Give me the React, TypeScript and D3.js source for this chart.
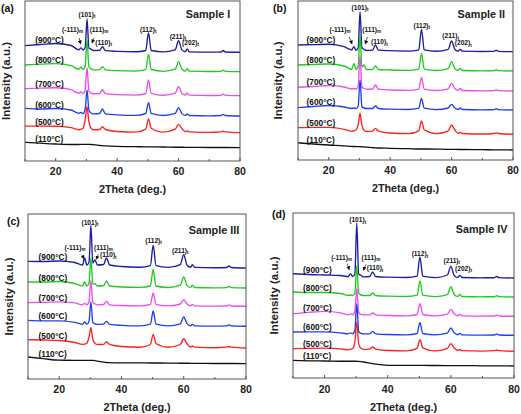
import React from 'react';
import * as d3 from 'd3';

// 2θ sampling positions (deg.) used for every pattern
const TWO_THETA = [10, 15, 20, 25, 27.5, 28.2, 28.9, 29.6, 30.2, 30.8, 31.5, 32.3, 34.3, 35.2, 36.2, 40, 46, 49.3, 50.2, 51.1, 55, 58.9, 60.0, 61.1, 62.2, 62.8, 63.5, 70, 73.8, 74.5, 75.3, 80];
const TEMPERATURES = ['(900°C)', '(800°C)', '(700°C)', '(600°C)', '(500°C)', '(110°C)'];
const SERIES_COLORS = ['#1c1ca6', '#1ecb1e', '#ee4cee', '#2040f0', '#ff2020', '#111111'];
const X_TICKS = [20, 40, 60, 80];
const X_MINOR_TICKS = [10, 30, 50, 70];

// Sample I — intensity (a.u.) of each pattern above its stacking offset
const SAMPLE_I_OFFSETS = [108.7, 89.3, 65.3, 45, 28.3, 13.3];
const SAMPLE_I_900 = [6.6, 7.8, 8.8, 6.8, 2.5, 4.5, 2.3, 5, 33.3, 4.3, 3.2, 1.8, 1.9, 5.6, 1.6, 1, 0.6, 1.8, 19.3, 1.8, 0.4, 2.5, 11.6, 2.4, 0.6, 3.3, 0.5, 0.2, 0.3, 1.8, 0.3, 0];
const SAMPLE_I_800 = [6.7, 7.5, 8, 6, 2.5, 4.5, 2.3, 6, 31.7, 5, 3, 1.8, 2, 5, 1.8, 1, 0.6, 2, 17.4, 2.2, 0.4, 2.5, 10, 2.4, 0.6, 3, 0.5, 0.2, 0.3, 1.6, 0.3, 0];
const SAMPLE_I_700 = [7, 7.5, 8, 6, 2.5, 4, 2.2, 6, 28, 5, 2.5, 2, 2.2, 6, 2, 1, 0.6, 2.2, 15.7, 2.4, 0.5, 2.6, 9, 2.4, 0.6, 2.5, 0.5, 0.2, 0.3, 1.5, 0.3, 0];
const SAMPLE_I_600 = [7.7, 7, 7.5, 6, 2.8, 3.5, 2.5, 7, 26, 6, 3, 2.2, 2.5, 7, 2.2, 1.2, 0.6, 2.5, 13.3, 2.6, 0.5, 2.6, 8.3, 2.4, 0.6, 2, 0.5, 0.2, 0.5, 1.5, 0.5, 0];
const SAMPLE_I_500 = [6.6, 6.5, 6.5, 5, 3, 3.5, 4.5, 13, 26, 11, 4.5, 3, 3.2, 6, 3.2, 1.2, 0.6, 3.5, 13.7, 4.5, 0.6, 3.5, 8.4, 4, 1, 1.8, 0.8, 0.3, 0.8, 1.5, 0.8, 0];
const SAMPLE_I_110 = [5.4, 4.5, 3.7, 3.2, 3.2, 3.3, 3.3, 3.4, 3.4, 3.3, 3.2, 3, 2.3, 2, 1.8, 1.3, 1, 0.8, 0.8, 0.8, 0.7, 0.5, 0.5, 0.5, 0.4, 0.4, 0.4, 0.2, 0.2, 0.2, 0.2, 0];

// Sample II
const SAMPLE_II_OFFSETS = [108.3, 89, 69, 50, 25.7, 10];
const SAMPLE_II_900 = [6.7, 7, 7.5, 5, 2, 5, 1.5, 4, 40, 4, 2.4, 1.2, 1.5, 6.7, 1.5, 1, 0.6, 1.8, 22.4, 1.8, 0.5, 2.4, 10.7, 2.3, 0.6, 2.4, 0.5, 0.2, 0.3, 1.5, 0.3, 0];
const SAMPLE_II_800 = [6, 6.5, 7, 5, 1.5, 7.7, 1.5, 5, 36, 4, 6, 1.5, 1.5, 5, 1.5, 1, 0.6, 1.8, 17.7, 1.8, 0.5, 2.4, 9.3, 2.3, 0.6, 2.7, 0.5, 0.2, 0.3, 1.3, 0.3, 0];
const SAMPLE_II_700 = [3.7, 4.5, 5.5, 4, 2, 2.5, 2, 5, 35, 4, 2.5, 1.8, 2, 6, 1.8, 1, 0.6, 1.8, 13.7, 1.8, 0.5, 2.2, 7.7, 2.2, 0.6, 2.5, 0.5, 0.2, 0.3, 1.3, 0.3, 0];
const SAMPLE_II_600 = [2.3, 3.5, 4.5, 3, 1.5, 2, 1.5, 4, 30, 3.5, 2, 1.5, 1.5, 4, 1.5, 0.8, 0.5, 1.8, 11.7, 1.8, 0.4, 2, 5.7, 2, 0.5, 2, 0.5, 0.2, 0.3, 1.3, 0.3, 0];
const SAMPLE_II_500 = [6.6, 7, 7, 5, 3, 3.5, 4.5, 10, 21, 9, 4, 2.8, 3.2, 6, 3.2, 1.3, 0.7, 3.5, 13.3, 4.5, 0.7, 3.5, 9.3, 4, 1, 1.8, 0.8, 0.3, 0.8, 1.5, 0.8, 0];
const SAMPLE_II_110 = [7.3, 6, 5, 4.2, 3.6, 3.5, 3.4, 3.4, 3.3, 3.2, 3, 2.8, 2.3, 2.1, 2, 1.7, 1.3, 1, 1, 1, 0.9, 0.7, 0.7, 0.6, 0.5, 0.5, 0.5, 0.3, 0.2, 0.2, 0.2, 0];

// Sample III
const SAMPLE_III_OFFSETS = [111, 91, 72.7, 52.7, 31, 15.3];
const SAMPLE_III_900 = [6.7, 6.5, 7, 5.5, 3, 10, 3, 6, 42.7, 5, 8, 3, 3.5, 10, 3, 1.5, 0.8, 2.4, 22.7, 2.4, 0.6, 3.4, 13.3, 2.8, 0.8, 3.3, 0.6, 0.3, 0.5, 2, 0.5, 0];
const SAMPLE_III_800 = [6, 6, 6.5, 4.5, 2, 6, 2, 5, 30, 4, 4.3, 2, 2.5, 7, 2, 1, 0.6, 2, 18.7, 2, 0.5, 2.8, 11, 2.4, 0.6, 2.7, 0.5, 0.2, 0.4, 1.5, 0.4, 0];
const SAMPLE_III_700 = [3.6, 4, 4.5, 3.5, 1.5, 3, 1.5, 5, 26, 4, 2.5, 1.5, 2, 5, 1.5, 0.8, 0.5, 2, 13.3, 2, 0.4, 2.3, 6.6, 2.2, 0.5, 2, 0.4, 0.2, 0.3, 1.5, 0.3, 0];
const SAMPLE_III_600 = [6, 5.5, 5.5, 4, 2, 4.3, 2, 5, 24.3, 4, 2.5, 2, 2.2, 5, 2, 1, 0.5, 2.2, 15.3, 2.2, 0.5, 2.4, 9.3, 2.4, 0.6, 2, 0.5, 0.2, 0.4, 1.5, 0.4, 0];
const SAMPLE_III_500 = [8.3, 8, 7.5, 5.5, 3.7, 3.8, 4.8, 11, 20.3, 9, 4.5, 3.5, 3.7, 6, 3.7, 1.5, 0.8, 3.5, 13.7, 4.5, 0.8, 3.5, 9.3, 4, 1, 2, 0.8, 0.3, 0.8, 1.5, 0.8, 0];
const SAMPLE_III_110 = [6.7, 5, 3.5, 3.4, 3.4, 3.4, 3.4, 3.4, 3.4, 3.3, 3.1, 2.5, 1.5, 1.2, 1, 0.8, 0.8, 0.7, 0.7, 0.7, 0.6, 0.5, 0.5, 0.5, 0.4, 0.4, 0.4, 0.2, 0.2, 0.2, 0.2, 0];

// Sample IV
const SAMPLE_IV_OFFSETS = [100, 81, 61.7, 42.7, 26.7, 12];
const SAMPLE_IV_900 = [4.3, 3.5, 3, 2.5, 1.5, 4.3, 1.5, 4, 55, 4, 2.7, 1.2, 1.5, 6, 1.5, 0.8, 0.5, 1.8, 21, 1.8, 0.4, 3, 11.7, 2.3, 0.6, 2.7, 0.5, 0.2, 0.3, 1.5, 0.3, 0];
const SAMPLE_IV_800 = [5, 4.5, 4.5, 3.5, 1.5, 2, 1.5, 4, 31.7, 4, 2, 1.5, 1.5, 4, 1.5, 0.8, 0.5, 1.8, 16, 1.8, 0.4, 2.4, 10, 2.3, 0.6, 2.7, 0.5, 0.2, 0.3, 1.3, 0.3, 0];
const SAMPLE_IV_700 = [2.6, 4, 5, 3.5, 1.5, 2.5, 1.5, 5, 27.6, 4, 2, 1.5, 1.5, 3.3, 1.5, 0.8, 0.5, 1.8, 12.6, 1.8, 0.4, 2.2, 7, 2.2, 0.6, 2, 0.5, 0.2, 0.3, 1.3, 0.3, 0];
const SAMPLE_IV_600 = [3.3, 3.5, 3.5, 2.5, 1.5, 2.5, 1.5, 5, 31.6, 4, 2, 1.5, 1.5, 4, 1.5, 0.8, 0.5, 1.8, 13, 1.8, 0.4, 2.2, 7.3, 2.2, 0.6, 2, 0.5, 0.2, 0.3, 1.3, 0.3, 0];
const SAMPLE_IV_500 = [2.6, 3, 3.2, 2.5, 1.5, 2, 2.8, 9.5, 29.3, 7.5, 3, 2, 2.2, 4.3, 2.2, 0.8, 0.5, 3, 11.6, 3.5, 0.4, 3, 7.6, 3.3, 0.8, 1.8, 0.6, 0.2, 0.6, 1.3, 0.6, 0];
const SAMPLE_IV_110 = [5.7, 5.2, 5, 4.8, 4.8, 4.8, 4.8, 4.8, 4.7, 4.6, 4.4, 4, 2.8, 2.3, 1.8, 0.7, 0.6, 0.6, 0.6, 0.6, 0.5, 0.4, 0.4, 0.4, 0.4, 0.4, 0.4, 0.2, 0.2, 0.2, 0.2, 0];

type Note = { main: string; sub: string; x: number; y: number };
type Arrow = { x1: number; y1: number; x2: number; y2: number };
type Panel = {
  letter: string; title: string;
  left: number; right: number; top: number; bottom: number;
  series: number[][]; offsets: number[]; labelX: number;
  letterX: number; letterY: number; yTitleX: number; xTitleY: number; tickY: number;
  notes: Note[]; arrows: Arrow[]; sampleX: number; sampleY: number;
};

const PANELS: Panel[] = [
  {
    letter: '(a)', title: 'Sample I', left: 25, right: 240, top: 1, bottom: 161,
    series: [SAMPLE_I_900, SAMPLE_I_800, SAMPLE_I_700, SAMPLE_I_600, SAMPLE_I_500, SAMPLE_I_110],
    offsets: SAMPLE_I_OFFSETS, labelX: 13.3,
    letterX: 1, letterY: 7.5, yTitleX: 6, xTitleY: 189, tickY: 171,
    notes: [
      { main: '(101)', sub: 't', x: 30.2, y: 147 },
      { main: '(-111)', sub: 'm', x: 25.5, y: 132 },
      { main: '(111)', sub: 'm', x: 34.1, y: 132 },
      { main: '(110)', sub: 't', x: 35.6, y: 119 },
      { main: '(112)', sub: 't', x: 50.1, y: 132 },
      { main: '(211)', sub: 't', x: 59.8, y: 125 },
      { main: '(202)', sub: 't', x: 63.9, y: 118.7 },
    ],
    arrows: [
      { x1: 27.6, y1: 123, x2: 28.1, y2: 117 },
      { x1: 32.5, y1: 123.3, x2: 31.8, y2: 118 },
    ],
    sampleX: 76.8, sampleY: 147,
  },
  {
    letter: '(b)', title: 'Sample II', left: 298, right: 513, top: 1, bottom: 160,
    series: [SAMPLE_II_900, SAMPLE_II_800, SAMPLE_II_700, SAMPLE_II_600, SAMPLE_II_500, SAMPLE_II_110],
    offsets: SAMPLE_II_OFFSETS, labelX: 12.8,
    letterX: 273, letterY: 7.5, yTitleX: 278, xTitleY: 188, tickY: 170,
    notes: [
      { main: '(101)', sub: 't', x: 30.2, y: 152.7 },
      { main: '(-111)', sub: 'm', x: 23.7, y: 130.7 },
      { main: '(111)', sub: 'm', x: 34, y: 130.7 },
      { main: '(110)', sub: 't', x: 36.5, y: 118.3 },
      { main: '(112)', sub: 't', x: 50.3, y: 135 },
      { main: '(211)', sub: 't', x: 59.7, y: 124.3 },
      { main: '(202)', sub: 't', x: 63.8, y: 117.3 },
    ],
    arrows: [
      { x1: 26.7, y1: 123.3, x2: 27.6, y2: 116 },
      { x1: 32.6, y1: 123, x2: 31.9, y2: 116 },
    ],
    sampleX: 77.4, sampleY: 146,
  },
  {
    letter: '(c)', title: 'Sample III', left: 28, right: 246, top: 214, bottom: 379,
    series: [SAMPLE_III_900, SAMPLE_III_800, SAMPLE_III_700, SAMPLE_III_600, SAMPLE_III_500, SAMPLE_III_110],
    offsets: SAMPLE_III_OFFSETS, labelX: 13.4,
    letterX: 7, letterY: 221, yTitleX: 8.5, xTitleY: 407, tickY: 389,
    notes: [
      { main: '(101)', sub: 't', x: 29.9, y: 157 },
      { main: '(-111)', sub: 'm', x: 25.1, y: 132 },
      { main: '(111)', sub: 'm', x: 34.2, y: 132 },
      { main: '(110)', sub: 't', x: 35.8, y: 124.3 },
      { main: '(112)', sub: 't', x: 50.3, y: 138.7 },
      { main: '(211)', sub: 't', x: 58.9, y: 128.7 },
    ],
    arrows: [
      { x1: 27.3, y1: 124.3, x2: 28, y2: 120.3 },
      { x1: 32.6, y1: 124.7, x2: 31.9, y2: 119.7 },
    ],
    sampleX: 77.8, sampleY: 149.3,
  },
  {
    letter: '(d)', title: 'Sample IV', left: 293, right: 514, top: 213, bottom: 378,
    series: [SAMPLE_IV_900, SAMPLE_IV_800, SAMPLE_IV_700, SAMPLE_IV_600, SAMPLE_IV_500, SAMPLE_IV_110],
    offsets: SAMPLE_IV_OFFSETS, labelX: 13.2,
    letterX: 272, letterY: 214, yTitleX: 273.5, xTitleY: 407, tickY: 389,
    notes: [
      { main: '(101)', sub: 't', x: 30.5, y: 158.3 },
      { main: '(-111)', sub: 'm', x: 25.4, y: 121 },
      { main: '(111)', sub: 'm', x: 34.7, y: 121 },
      { main: '(110)', sub: 't', x: 36, y: 110.3 },
      { main: '(112)', sub: 't', x: 50.2, y: 124.3 },
      { main: '(211)', sub: 't', x: 60.3, y: 117.7 },
      { main: '(202)', sub: 't', x: 64, y: 110 },
    ],
    arrows: [
      { x1: 27.2, y1: 114.3, x2: 27.8, y2: 108.3 },
      { x1: 33.1, y1: 113.7, x2: 32.3, y2: 107.7 },
    ],
    sampleX: 77.9, sampleY: 149.3,
  },
];

const FONT = '"Liberation Sans", Arial, Helvetica, sans-serif';

function PanelView({ p, idx }: { p: Panel; idx: number }) {
  const x = d3.scaleLinear().domain([10, 80]).range([p.left, p.right]);
  const y = d3.scaleLinear().domain([0, 160]).range([p.bottom, p.bottom - 160]);
  const order = [0, 1, 2, 3, 4, 5];
  return (
    <g>
      <g clipPath={`url(#clip${idx})`}>
        {order.map((si) => {
          const off = p.offsets[si];
          const line = d3
            .line<number>()
            .x((_, i) => x(TWO_THETA[i]))
            .y((v) => y(v + off))
            .curve(d3.curveMonotoneX);
          return (
            <path key={si} d={line(p.series[si]) || ''} fill="none" stroke={SERIES_COLORS[si]} strokeWidth={1.35} strokeLinejoin="round" />
          );
        })}
      </g>
      <rect x={p.left} y={p.top} width={p.right - p.left} height={p.bottom - p.top} fill="none" stroke="#555" strokeWidth={1} />
      {X_TICKS.map((t) => (
        <g key={t}>
          <line x1={x(t)} x2={x(t)} y1={p.bottom} y2={p.bottom - 3} stroke="#555" />
          <text x={x(t)} y={p.tickY} textAnchor="middle" dominantBaseline="central" fontSize={10.5} fontWeight="bold" fill="#222">{t}</text>
        </g>
      ))}
      {X_MINOR_TICKS.map((t) => (
        <line key={t} x1={x(t)} x2={x(t)} y1={p.bottom} y2={p.bottom - 2} stroke="#555" />
      ))}
      <text x={(p.left + p.right) / 2} y={p.xTitleY} textAnchor="middle" dominantBaseline="central" fontSize={10.8} fontWeight="bold" fill="#222">2Theta (deg.)</text>
      <text transform={`translate(${p.yTitleX},${(p.top + p.bottom) / 2}) rotate(-90)`} textAnchor="middle" dominantBaseline="central" fontSize={11.5} fontWeight="bold" fill="#222">Intensity (a.u.)</text>
      <text x={p.letterX} y={p.letterY} dominantBaseline="central" fontSize={10.5} fontWeight="bold" fill="#111">{p.letter}</text>
      <text x={x(p.sampleX)} y={y(p.sampleY)} textAnchor="end" dominantBaseline="central" fontSize={10.8} fontWeight="bold" fill="#222">{p.title}</text>
      {TEMPERATURES.map((lab, si) => (
        <text key={lab} x={x(p.labelX)} y={y(p.offsets[si] + p.series[si][1]) - 1.5} fontSize={8.3} fontWeight="bold" fill="#111">{lab}</text>
      ))}
      {p.notes.map((n) => (
        <text key={n.main} x={x(n.x)} y={y(n.y)} textAnchor="middle" dominantBaseline="central" fontSize={6.6} fontWeight="bold" fill="#111">
          {n.main}
          <tspan fontSize={4.6} dy={2}>{n.sub}</tspan>
        </text>
      ))}
      {p.arrows.map((a, i) => (
        <line key={i} x1={x(a.x1)} y1={y(a.y1)} x2={x(a.x2)} y2={y(a.y2)} stroke="#111" strokeWidth={0.7} markerEnd="url(#arrowhead)" />
      ))}
    </g>
  );
}

export default function App() {
  return (
    <svg width={521} height={414} style={{ position: 'absolute', left: 0, top: 0, background: '#fff' }} fontFamily={FONT}>
      <defs>
        <marker id="arrowhead" markerWidth={4} markerHeight={4} refX={3.5} refY={2} orient="auto" markerUnits="userSpaceOnUse">
          <path d="M0,0 L4,2 L0,4 z" fill="#111" />
        </marker>
        {PANELS.map((p, i) => (
          <clipPath key={i} id={`clip${i}`}>
            <rect x={p.left} y={p.top} width={p.right - p.left} height={p.bottom - p.top} />
          </clipPath>
        ))}
      </defs>
      <rect width={521} height={414} fill="#fff" />
      {PANELS.map((p, i) => (
        <PanelView key={i} p={p} idx={i} />
      ))}
    </svg>
  );
}
